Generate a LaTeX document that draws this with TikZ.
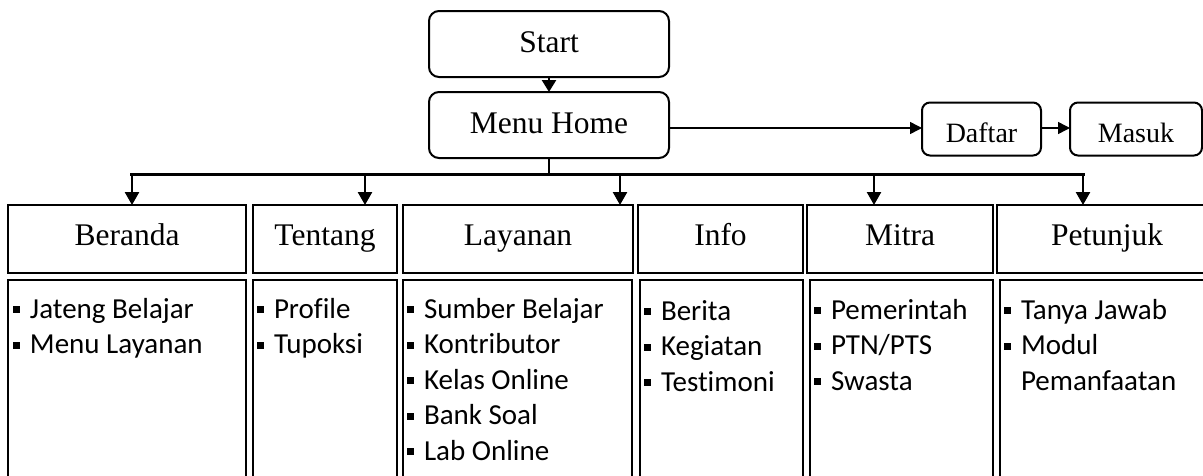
\documentclass[tikz,border=0pt]{standalone}
\usepackage{fontspec}
\setmainfont{Liberation Serif}
\newfontfamily\listfont[Ligatures={NoCommon}]{Carlito}
\usetikzlibrary{arrows.meta}
\newcommand\blt{\makebox[17pt][l]{\rule[5pt]{7pt}{7pt}}}
\newcommand\lstbox[1]{\parbox[t]{200pt}{\raggedright\listfont\fontsize{29}{35.5}\selectfont #1}}
\begin{document}
\begin{tikzpicture}[x=1pt,y=-1pt,
  rbox/.style={draw,line width=2pt,rounded corners=10pt,inner sep=0pt,outer sep=0pt,text height=21pt,text depth=5pt},
  hbox/.style={draw,line width=2pt,inner sep=0pt,outer sep=0pt,minimum height=68pt,text height=21pt,text depth=9pt,font=\fontsize{31.5}{36}\selectfont},
  cbox/.style={draw,line width=2pt,inner sep=0pt,outer sep=0pt,minimum height=201pt},
  lst/.style={inner sep=0pt,outer sep=0pt,anchor=base west},
  arr/.style={line width=2.5pt,-{Triangle[width=14pt,length=13pt]}},
  harr/.style={line width=1.5pt,-{Triangle[width=12pt,length=12pt]}}]
\useasboundingbox (0,0) rectangle (1203,475);
\begin{scope}
\clip (0,0) rectangle (1203,475);
% top
\node[rbox,minimum width=240pt,minimum height=66pt,font=\fontsize{31.5}{36}\selectfont] (start) at (549,44) {Start};
\node[rbox,minimum width=240pt,minimum height=66pt,font=\fontsize{31.5}{36}\selectfont] (home) at (549,125) {Menu Home};
\node[rbox,rounded corners=8pt,minimum width=119pt,minimum height=53pt,text height=26pt,text depth=0pt,font=\fontsize{28}{32}\selectfont] (daftar) at (981.5,129) {Daftar};
\node[rbox,rounded corners=8pt,minimum width=132pt,minimum height=53pt,text height=26pt,text depth=0pt,font=\fontsize{28}{32}\selectfont] (masuk) at (1136,129) {Masuk};
\draw[arr,-{Triangle[width=14pt,length=12pt]}] (start.south) -- (home.north);
\draw[harr] (home.east |- 0,128) -- (daftar.west |- 0,128);
\draw[harr] (daftar.east |- 0,128) -- (masuk.west |- 0,128);
% headers
\node[hbox,minimum width=238pt] (beranda) at (127,239) {Beranda};
\node[hbox,minimum width=144pt] (tentang) at (325,239) {Tentang};
\node[hbox,minimum width=230pt] (layanan) at (518,239) {Layanan};
\node[hbox,minimum width=165pt] (info) at (720.5,239) {Info};
\node[hbox,minimum width=186pt] (mitra) at (900,239) {Mitra};
\node[hbox,minimum width=220pt] (petunjuk) at (1107,239) {Petunjuk};
% bus
\coordinate (bus0) at (549,174);
\coordinate (a1) at (132,174);
\coordinate (a2) at (365,174);
\coordinate (a3) at (620,174);
\coordinate (a4) at (874,174);
\coordinate (a5) at (1083,174);
\draw[line width=2.5pt] (home.south) -- (bus0);
\draw[line width=3pt] ([xshift=-2pt]a1) -- ([xshift=1.5pt]a5);
\draw[arr] (a1) -- (a1 |- beranda.north);
\draw[arr] (a2) -- (a2 |- tentang.north);
\draw[arr] (a3) -- (a3 |- layanan.north);
\draw[arr] (a4) -- (a4 |- mitra.north);
\draw[arr] (a5) -- (a5 |- petunjuk.north);
% content boxes
\node[cbox,minimum width=238pt] (cberanda) at (127,380) {};
\node[cbox,minimum width=144pt] (ctentang) at (325,380) {};
\node[cbox,minimum width=229pt] (clayanan) at (517.5,380) {};
\node[cbox,minimum width=163pt] (cinfo) at (721.5,380) {};
\node[cbox,minimum width=183pt] (cmitra) at (901.5,380) {};
\node[cbox,minimum width=220pt] (cpetunjuk) at (1110,380) {};
% lists
\node[lst] (lberanda) at (13,318) {\lstbox{\blt Jateng Belajar\\\blt Menu Layanan}};
\node[lst] (ltentang) at (257,318) {\lstbox{\blt Profile\\\blt Tupoksi}};
\node[lst] (llayanan) at (407,318) {\lstbox{\blt Sumber Belajar\\\blt Kontributor\\\blt Kelas Online\\\blt Bank Soal\\\blt Lab Online}};
\node[lst] (linfo) at (644,320) {\lstbox{\blt Berita\\\blt Kegiatan\\\blt Testimoni}};
\node[lst] (lmitra) at (814,319) {\lstbox{\blt Pemerintah\\\blt PTN/PTS\\\blt Swasta}};
\node[lst] (lpetunjuk) at (1004,319) {\lstbox{\blt Tanya Jawab\\\blt Modul\\\hspace*{17pt}Pemanfaatan}};
\end{scope}
\end{tikzpicture}
\end{document}
